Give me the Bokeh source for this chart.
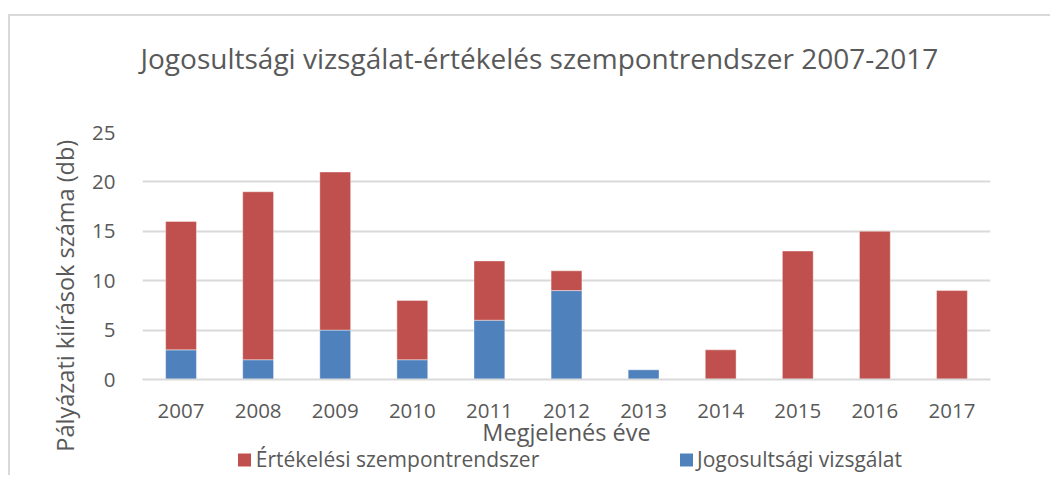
from bokeh.plotting import figure
from bokeh.models import (ColumnDataSource, Range1d, Title, LinearAxis, FixedTicker)
from bokeh.embed import file_html
from bokeh.resources import INLINE

# ---- data ----
years = ["2007", "2008", "2009", "2010", "2011", "2012", "2013", "2014", "2015", "2016", "2017"]
jogosultsagi = [3, 2, 5, 2, 6, 9, 1, 0, 0, 0, 0]
ertekelesi = [13, 17, 16, 6, 6, 2, 0, 3, 13, 15, 9]
series_names = ["Értékelési szempontrendszer", "Jogosultsági vizsgálat"]
title_text = "Jogosultsági vizsgálat-értékelés szempontrendszer 2007-2017"
x_title = "Megjelenés éve"
y_title = "Pályázati kiírások száma (db)"
y_ticks = [0, 5, 10, 15, 20, 25]

BLUE = "#4F81BD"
RED = "#C0504D"
TXT = "#595959"
GRID = "#D9D9D9"
FONT = "Open Sans"

# legend layout (pixel offsets from plot-area left edge)
LEG_SQ_RED, LEG_SQ_BLUE = 102, 544
LEG_TXT_RED, LEG_TXT_BLUE = 255, 657

# category slots: each year occupies one unit, centred at index + 0.5
xpos = [i + 0.5 for i in range(len(years))]
source = ColumnDataSource(dict(x=xpos, year=years, jog=jogosultsagi, ert=ertekelesi))

p = figure(
    x_range=Range1d(0, len(years)), y_range=Range1d(0, 25),
    width=1042, height=461,
    output_backend="svg", toolbar_location=None,
    min_border_left=132, min_border_right=62,
    min_border_top=116, min_border_bottom=98,
    styles={"margin-left": "8px", "margin-top": "14px",
            "border-top": "2px solid #D9D9D9",
            "border-left": "2px solid #D9D9D9"},
)
p.outline_line_color = None
p.background_fill_color = "white"
p.border_fill_color = "white"
p.extra_x_ranges = {"leg": Range1d(0, 848)}

rs = p.vbar_stack(["jog", "ert"], x="x", width=0.4, color=[BLUE, RED],
                  line_color="white", line_alpha=0.4, line_width=1, source=source)

# main title, with a thin spacer title between it and the plot area
p.title.text = title_text
p.title.align = "left"
p.title.offset = -2
p.title.standoff = 2
p.title.text_font = FONT
p.title.text_font_size = "28px"
p.title.text_font_style = "normal"
p.title.text_color = TXT
spacer = Title(text="\u00a0", text_font_size="1px", standoff=52)
p.add_layout(spacer, "above")

# axes
p.xgrid.grid_line_color = None
p.ygrid.grid_line_color = GRID
p.ygrid.grid_line_width = 2
p.yaxis.ticker = y_ticks
p.yaxis.axis_line_color = None
p.yaxis.major_tick_line_color = None
p.yaxis.minor_tick_line_color = None
p.yaxis.major_label_standoff = 21
p.xaxis.ticker = FixedTicker(ticks=xpos, minor_ticks=[])
p.xaxis.major_label_overrides = {xv: yr for xv, yr in zip(xpos, years)}
p.xaxis.axis_line_color = GRID
p.xaxis.axis_line_width = 2
p.xaxis.major_tick_line_color = None
p.xaxis.minor_tick_line_color = None
p.xaxis.major_label_standoff = 18
for ax in (p.xaxis[0], p.yaxis[0]):
    ax.major_label_text_font = FONT
    ax.major_label_text_font_size = "20.5px"
    ax.major_label_text_color = TXT
    ax.axis_label_text_font = FONT
    ax.axis_label_text_font_size = "23.5px"
    ax.axis_label_text_font_style = "normal"
    ax.axis_label_text_color = TXT

p.xaxis.axis_label = x_title
p.xaxis.axis_label_standoff = -5
p.yaxis.axis_label = y_title + "\u00a0" * 13
p.yaxis.axis_label_standoff = 8

# legend: colour squares drawn as thick ticks, names as tick labels
sq_axis = LinearAxis(
    x_range_name="leg",
    ticker=FixedTicker(ticks=[LEG_SQ_RED], minor_ticks=[LEG_SQ_BLUE]),
    axis_line_color=None,
    major_tick_in=-3, major_tick_out=16, major_tick_line_width=13,
    major_tick_line_color=RED,
    minor_tick_in=-3, minor_tick_out=16, minor_tick_line_width=13,
    minor_tick_line_color=BLUE,
    major_label_overrides={LEG_SQ_RED: ""},
    major_label_text_font_size="1px", major_label_standoff=-2,
)
p.add_layout(sq_axis, "below")

txt_axis = LinearAxis(
    x_range_name="leg",
    ticker=FixedTicker(ticks=[LEG_TXT_RED, LEG_TXT_BLUE], minor_ticks=[]),
    axis_line_color=None,
    major_tick_line_color=None, minor_tick_line_color=None,
    major_tick_in=0, major_tick_out=0, minor_tick_in=0, minor_tick_out=0,
    major_label_overrides={LEG_TXT_RED: series_names[0], LEG_TXT_BLUE: series_names[1]},
    major_label_text_font=FONT, major_label_text_font_size="21px",
    major_label_text_color=TXT, major_label_standoff=-22,
)
p.add_layout(txt_axis, "below")

open("out.html", "w").write(file_html(p, INLINE))
